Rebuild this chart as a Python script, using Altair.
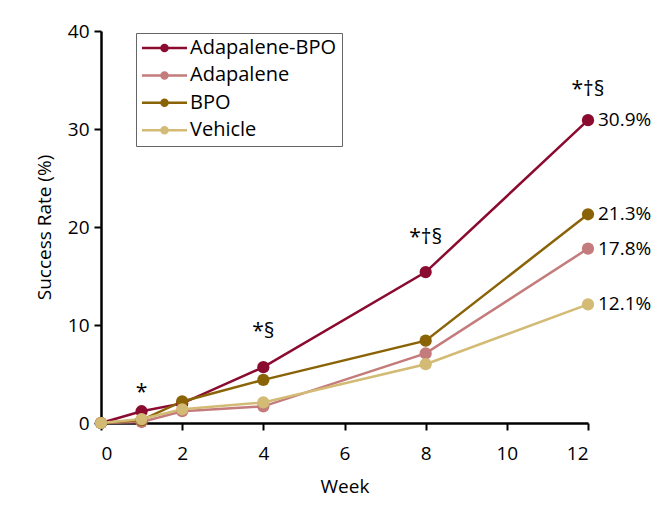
import altair as alt
import pandas as pd

weeks = [0, 1, 2, 4, 8, 12]
series = ["Adapalene-BPO", "Adapalene", "BPO", "Vehicle"]
colors = ["#8b0a2f", "#c47b7b", "#8a6307", "#d3bb75"]
adapalene_bpo = [0.0, 1.2, 2.0, 5.7, 15.4, 30.9]
adapalene = [0.0, 0.1, 1.2, 1.7, 7.1, 17.8]
bpo = [0.0, 0.3, 2.2, 4.4, 8.4, 21.3]
vehicle = [0.0, 0.4, 1.4, 2.1, 6.0, 12.1]
values = [adapalene_bpo, adapalene, bpo, vehicle]

end_labels = ["30.9%", "17.8%", "21.3%", "12.1%"]

annot_weeks = [1, 4, 8, 12]
annot_y = [2.5, 8.7, 18.3, 33.4]
annot_text = ["*", "*§", "*†§", "*†§"]

x_ticks = [0, 2, 4, 6, 8, 10, 12]
y_ticks = [0, 10, 20, 30, 40]

rows = []
for s, vals in zip(series, values):
    for w, v in zip(weeks, vals):
        rows.append({"week": w, "rate": v, "series": s})
df = pd.DataFrame(rows)

df_end = pd.DataFrame({
    "week": [weeks[-1]] * len(series),
    "rate": [v[-1] for v in values],
    "label": end_labels,
})
df_annot = pd.DataFrame({"week": annot_weeks, "rate": annot_y, "text": annot_text})

FONT = "Open Sans"

x_enc = alt.X("week:Q", scale=alt.Scale(domain=[0, 12], nice=False, zero=False),
              axis=alt.Axis(values=x_ticks, title="Week", labelPadding=14,
                            titleY=69, titleBaseline="alphabetic"))
y_enc = alt.Y("rate:Q", scale=alt.Scale(domain=[0, 40], nice=False),
              axis=alt.Axis(values=y_ticks, title="Success Rate (%)", labelPadding=5,
                            titleX=-51, titleY=196, titleAlign="center",
                            titleBaseline="alphabetic", titleAngle=-90))

color_scale = alt.Scale(domain=series, range=colors)

# legend glyph: a line with a dot (path units: 1 = sqrt(symbolSize)/2 px)
sym_path = ("M-4.5,-0.25L-0.8,-0.25L-0.8,0.25L-4.5,0.25Z"
            "M0.8,-0.25L4.5,-0.25L4.5,0.25L0.8,0.25Z"
            "M0.85,0A0.85,0.85,0,1,1,-0.85,0A0.85,0.85,0,1,1,0.85,0Z")

lines = alt.Chart(df).mark_line(strokeWidth=2.5).encode(
    x=x_enc, y=y_enc,
    color=alt.Color("series:N", scale=color_scale,
                    legend=alt.Legend(orient="none", legendX=35, legendY=2, title=None,
                                      labelFont=FONT, labelFontSize=20, labelColor="black",
                                      symbolType=sym_path, symbolSize=100,
                                      symbolStrokeWidth=0,
                                      symbolOffset=13.5, labelOffset=15.5,
                                      rowPadding=7.4, padding=5,
                                      strokeColor="#666666")),
)

points = alt.Chart(df).mark_circle(size=150, opacity=1).encode(
    x=x_enc, y=y_enc,
    color=alt.Color("series:N", scale=color_scale),
)

ends = alt.Chart(df_end).mark_text(align="left", baseline="middle", dx=10,
                                   font=FONT, fontSize=19, color="black").encode(
    x=x_enc, y=y_enc, text="label:N")

annots = alt.Chart(df_annot).mark_text(align="center", baseline="alphabetic",
                                       font=FONT, fontSize=21, color="black").encode(
    x=x_enc, y=y_enc, text="text:N")

chart = alt.layer(lines, points, ends, annots).properties(
    width=487, height=392,
    padding={"left": 93, "top": 23, "right": 76, "bottom": 75},
    autosize=alt.AutoSizeParams(type="none"),
).configure_view(stroke=None).configure_axis(
    grid=False, domainColor="black", tickColor="black", labelColor="black",
    titleColor="black", labelFont=FONT, titleFont=FONT, labelFontSize=19,
    titleFontSize=19, titleFontWeight="normal", domainWidth=2.5, tickWidth=2,
    tickSize=7,
)

chart.save("out.html", embed_options={"renderer": "svg", "actions": False})
